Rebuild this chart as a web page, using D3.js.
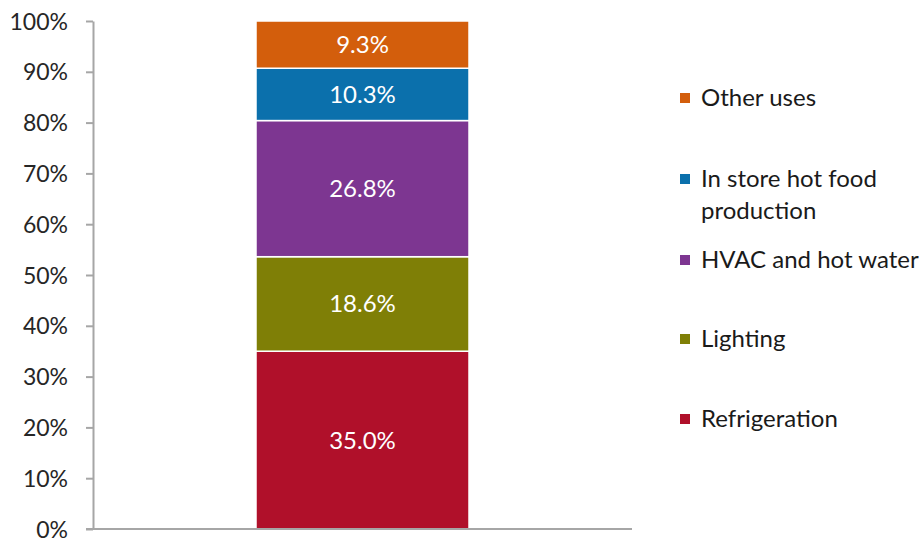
<!DOCTYPE html>
<html><head><meta charset="utf-8">
<script src="https://cdn.jsdelivr.net/npm/d3@7"></script>
<style>body{margin:0;background:#fff;overflow:hidden;} svg{display:block;font-family:Lato,"Open Sans",sans-serif;}</style>
</head><body>
<svg id="c" width="920" height="539"></svg>
<script>
const categories = ["Refrigeration","Lighting","HVAC and hot water","In store hot food production","Other uses"];
const values = [35.0, 18.6, 26.8, 10.3, 9.3];
const colors = ["#B0102A","#7F7F06","#7D3691","#0B70AC","#D35E0C"];
const tickValues = [0,10,20,30,40,50,60,70,80,90,100];

const svg = d3.select("#c");
const y = d3.scaleLinear().domain([0,100]).range([529,21]);
const x = d3.scaleBand().domain(["Total"]).range([93,632]).paddingInner(0).paddingOuter(0.437);

// axis
const yAxis = d3.axisLeft(y).tickValues(tickValues).tickFormat(d=>d+"%").tickSize(7).tickSizeOuter(0);
const gy = svg.append("g").attr("transform","translate(93,0)").call(yAxis);
gy.select(".domain").attr("stroke","#A6A6A6").attr("stroke-width",2);
gy.selectAll(".tick line").attr("stroke","#A6A6A6").attr("stroke-width",2);
gy.selectAll(".tick text").attr("fill","#262626").attr("font-size",23).attr("x",-25).attr("dy","0.35em")
  .attr("font-family","Lato,'Open Sans',sans-serif");

// stacked
let cum = 0;
const stacked = values.map((v,i)=>{const s={cat:categories[i],v,y0:cum,y1:cum+v,color:colors[i]};cum+=v;return s;});
const bw = 213;
const bx = x("Total") + x.bandwidth()/2 - bw/2;
svg.append("g").selectAll("rect").data(stacked).join("rect")
  .attr("x",bx).attr("width",bw)
  .attr("y",d=>y(d.y1)).attr("height",d=>y(d.y0)-y(d.y1))
  .attr("fill",d=>d.color).attr("stroke","#fff").attr("stroke-width",1.5);
svg.append("g").selectAll("text").data(stacked).join("text")
  .attr("x",bx+bw/2).attr("y",d=>y((d.y0+d.y1)/2)).attr("dy","0.35em")
  .attr("text-anchor","middle").attr("fill","#fff").attr("font-size",24)
  .text(d=>d.v.toFixed(1)+"%");

// baseline
svg.append("line").attr("x1",86).attr("x2",632).attr("y1",y(0)).attr("y2",y(0)).attr("stroke","#A6A6A6").attr("stroke-width",2);

// legend
const legend = [
  {i:4, lines:["Other uses"], y:98},
  {i:3, lines:["In store hot food","production"], y:179},
  {i:2, lines:["HVAC and hot water"], y:260},
  {i:1, lines:["Lighting"], y:339},
  {i:0, lines:["Refrigeration"], y:419}
];
const lg = svg.append("g");
legend.forEach(l=>{
  lg.append("rect").attr("x",680).attr("y",l.y-5).attr("width",10).attr("height",10).attr("fill",colors[l.i]);
  l.lines.forEach((t,k)=>{
    lg.append("text").attr("x",701).attr("y",l.y+k*32).attr("dy","0.35em").attr("font-size",24).attr("fill","#1a1a1a").text(t);
  });
});
</script>
</body></html>
